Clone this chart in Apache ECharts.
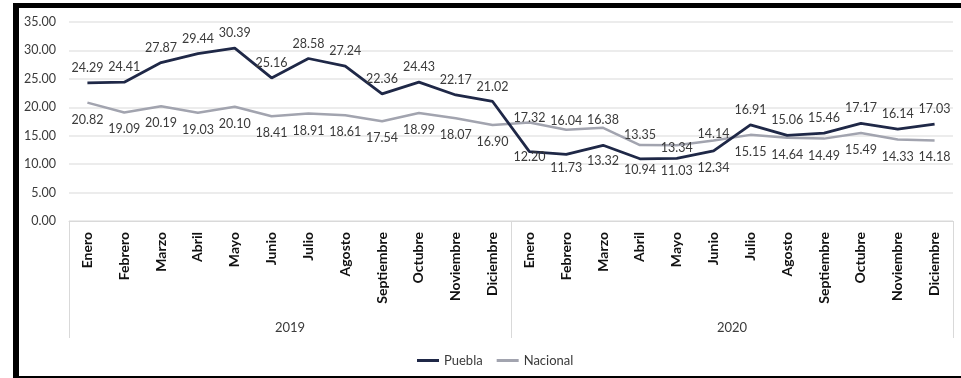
<!DOCTYPE html>
<html>
<head>
<meta charset="utf-8">
<script src="https://cdn.jsdelivr.net/npm/echarts@6/dist/echarts.min.js"></script>
<style>
html,body{margin:0;padding:0;background:#fff;}
#c{width:961px;height:378px;}
</style>
</head>
<body>
<div id="c"></div>
<script>
// ---- data ----
const months = ['Enero','Febrero','Marzo','Abril','Mayo','Junio','Julio','Agosto','Septiembre','Octubre','Noviembre','Diciembre',
                'Enero','Febrero','Marzo','Abril','Mayo','Junio','Julio','Agosto','Septiembre','Octubre','Noviembre','Diciembre'];
const years = ['2019','2020'];
const puebla = [24.29,24.41,27.87,29.44,30.39,25.16,28.58,27.24,22.36,24.43,22.17,21.02,
                12.20,11.73,13.32,10.94,11.03,12.34,16.91,15.06,15.46,17.17,16.14,17.03];
const nacional = [20.82,19.09,20.19,19.03,20.10,18.41,18.91,18.61,17.54,18.99,18.07,16.90,
                  17.32,16.04,16.38,13.35,13.34,14.14,15.15,14.64,14.49,15.49,14.33,14.18];
const yTicks = [0,5,10,15,20,25,30,35];

// ---- label placement (style only) ----
const pueblaLabelDy = [-15,-15,-15,-15,-15,-15,-15,-15,-15,-15,-15,-15,
                       5,14,16,11,13,17,-15,-15,-15,-15,-15,-15];
const nacionalLabelDy = [17,17,17,17,17,17,17,17,17,17,17,17,
                         -5,-9,-8,-10,3,-7,17,17,17,17,17,17];

const FONT = 'Lato';
const TXT = '#3a3a3a';

function buildData(vals, dys){
  return vals.map((v,i)=>({value:v, label:{offset:[0,dys[i]]}}));
}

const chart = echarts.init(document.getElementById('c'), null, {renderer:'canvas'});
chart.setOption({
  animation:false,
  backgroundColor:'#fff',
  textStyle:{fontFamily:FONT},
  grid:{left:69, right:8, top:22, bottom:157, containLabel:false},
  legend:{
    data:['Puebla','Nacional'],
    left:412, top:349,
    icon:'rect', itemWidth:22, itemHeight:3, itemGap:14,
    textStyle:{fontFamily:FONT, fontSize:13, color:TXT},
    selectedMode:false
  },
  xAxis:[{
    type:'category', data:months, boundaryGap:true,
    axisLine:{show:true, lineStyle:{color:'#d9d9d9', width:1}},
    axisTick:{show:false},
    axisLabel:{rotate:90, margin:11, interval:0, fontFamily:FONT, fontSize:14, fontWeight:'bold', color:'#111'}
  },{
    type:'category', data:years, position:'bottom', boundaryGap:true,
    axisLine:{show:false},
    axisTick:{show:true, length:117, lineStyle:{color:'#d9d9d9', width:1}},
    axisLabel:{margin:100, fontFamily:FONT, fontSize:13, color:TXT}
  }],
  yAxis:{
    type:'value', min:0, max:35, interval:5,
    axisLine:{show:false}, axisTick:{show:false},
    splitLine:{lineStyle:{color:'#e6e6e6', width:1.5}},
    axisLabel:{margin:13, fontFamily:FONT, fontSize:12.5, color:TXT, formatter:v=>v.toFixed(2)}
  },
  series:[{
    name:'Puebla', type:'line', xAxisIndex:0,
    data:buildData(puebla,pueblaLabelDy),
    symbol:'circle', symbolSize:0.1, showSymbol:true,
    lineStyle:{color:'#1f2847', width:2.8},
    itemStyle:{color:'#1f2847'},
    emphasis:{disabled:true},
    label:{show:true, position:'inside', fontFamily:FONT, fontSize:12.5, color:TXT, formatter:p=>Number(p.value).toFixed(2)},
    z:3
  },{
    name:'Nacional', type:'line', xAxisIndex:0,
    data:buildData(nacional,nacionalLabelDy),
    symbol:'circle', symbolSize:0.1, showSymbol:true,
    lineStyle:{color:'#a2a4af', width:2.5},
    itemStyle:{color:'#a2a4af'},
    emphasis:{disabled:true},
    label:{show:true, position:'inside', fontFamily:FONT, fontSize:12.5, color:TXT, formatter:p=>Number(p.value).toFixed(2)},
    z:2
  }],
  graphic:[
    {type:'rect', shape:{x:13, y:3, width:948, height:5}, style:{fill:'#000'}, silent:true},
    {type:'rect', shape:{x:13, y:3, width:6, height:375}, style:{fill:'#000'}, silent:true},
    {type:'rect', shape:{x:13, y:376, width:948, height:2}, style:{fill:'#000'}, silent:true}
  ]
});
</script>
</body>
</html>
